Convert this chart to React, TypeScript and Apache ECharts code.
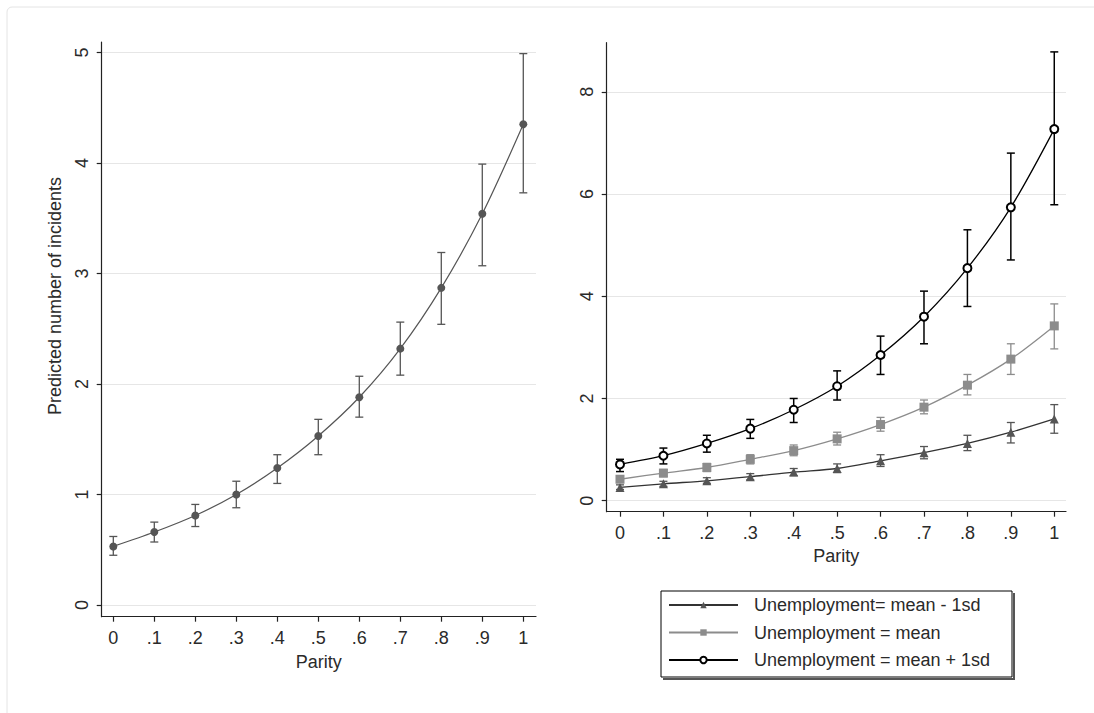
import React, { useEffect, useRef } from "react";
import * as echarts from "echarts";

const parity = [0, 0.1, 0.2, 0.3, 0.4, 0.5, 0.6, 0.7, 0.8, 0.9, 1];
const xTickLabels = ["0", ".1", ".2", ".3", ".4", ".5", ".6", ".7", ".8", ".9", "1"];
const leftYTicks = [0, 1, 2, 3, 4, 5];
const rightYTicks = [0, 2, 4, 6, 8];

// Left panel: predicted number of incidents
const leftPred = [0.53, 0.66, 0.81, 1.0, 1.24, 1.53, 1.88, 2.32, 2.87, 3.54, 4.35];
const leftLow = [0.45, 0.57, 0.71, 0.88, 1.1, 1.36, 1.7, 2.08, 2.54, 3.07, 3.73];
const leftHigh = [0.62, 0.75, 0.91, 1.12, 1.36, 1.68, 2.07, 2.56, 3.19, 3.99, 4.99];

// Right panel
const nameMinus = "Unemployment= mean - 1sd";
const nameMean = "Unemployment = mean";
const namePlus = "Unemployment = mean + 1sd";

const minusPred = [0.26, 0.33, 0.39, 0.47, 0.56, 0.63, 0.78, 0.94, 1.12, 1.34, 1.6];
const minusLow = [0.22, 0.28, 0.34, 0.41, 0.49, 0.55, 0.67, 0.82, 0.98, 1.13, 1.32];
const minusHigh = [0.31, 0.38, 0.45, 0.53, 0.63, 0.72, 0.9, 1.06, 1.28, 1.53, 1.88];

const meanPred = [0.42, 0.54, 0.65, 0.81, 0.98, 1.21, 1.49, 1.83, 2.26, 2.77, 3.42];
const meanLow = [0.36, 0.47, 0.57, 0.72, 0.88, 1.09, 1.36, 1.7, 2.07, 2.47, 2.97];
const meanHigh = [0.49, 0.61, 0.73, 0.9, 1.09, 1.34, 1.63, 1.97, 2.47, 3.07, 3.85];

const plusPred = [0.71, 0.88, 1.12, 1.41, 1.78, 2.24, 2.85, 3.6, 4.55, 5.74, 7.27];
const plusLow = [0.57, 0.72, 0.95, 1.22, 1.53, 1.97, 2.47, 3.07, 3.8, 4.71, 5.79];
const plusHigh = [0.81, 1.03, 1.28, 1.59, 2.0, 2.54, 3.22, 4.1, 5.3, 6.8, 8.78];

const FONT = "'Liberation Sans', Arial, Helvetica, sans-serif";
const TEXT = "#2a2a2a";
const AXIS = "#222";
const GRIDC = "#e6e6e6";

function pts(ys: number[]) {
  return parity.map((x, i) => [x, ys[i]]);
}
function bars(lo: number[], hi: number[]) {
  return parity.map((x, i) => [x, lo[i], hi[i]]);
}

function errorSeries(idx: number, lo: number[], hi: number[], color: string, width: number) {
  return {
    type: "custom",
    xAxisIndex: idx,
    yAxisIndex: idx,
    silent: true,
    z: 3,
    data: bars(lo, hi),
    renderItem: (params: any, api: any) => {
      const x = api.value(0);
      const a = api.coord([x, api.value(1)]);
      const b = api.coord([x, api.value(2)]);
      const cw = 4;
      const style = { stroke: color, lineWidth: width };
      return {
        type: "group",
        children: [
          { type: "line", shape: { x1: a[0], y1: a[1], x2: b[0], y2: b[1] }, style },
          { type: "line", shape: { x1: a[0] - cw, y1: a[1], x2: a[0] + cw, y2: a[1] }, style },
          { type: "line", shape: { x1: b[0] - cw, y1: b[1], x2: b[0] + cw, y2: b[1] }, style },
        ],
      };
    },
  };
}

function xAxisCfg(idx: number, min: number, max: number, gap: number) {
  return {
    type: "value",
    gridIndex: idx,
    min,
    max,
    name: "Parity",
    nameLocation: "middle",
    nameGap: gap,
    nameTextStyle: { fontSize: 18, color: TEXT, fontFamily: FONT },
    axisLine: { show: true, onZero: false, lineStyle: { color: AXIS, width: 1.2 } },
    axisTick: { show: true, length: 5, customValues: parity, lineStyle: { color: AXIS, width: 1.2 } },
    axisLabel: {
      customValues: parity,
      margin: 12,
      fontSize: 18,
      color: TEXT,
      fontFamily: FONT,
      formatter: (v: number) => xTickLabels[Math.round(v * 10)],
    },
    splitLine: { show: false },
  };
}

function yAxisCfg(idx: number, min: number, max: number, ticks: number[]) {
  return {
    type: "value",
    gridIndex: idx,
    min,
    max,
    axisLine: { show: true, onZero: false, lineStyle: { color: AXIS, width: 1.2 } },
    axisTick: { show: true, length: 5, customValues: ticks, lineStyle: { color: AXIS, width: 1.2 } },
    axisLabel: {
      customValues: ticks,
      rotate: 90,
      margin: 11,
      fontSize: 18,
      color: TEXT,
      fontFamily: FONT,
    },
    splitLine: { show: true, lineStyle: { color: GRIDC, width: 1.2 } },
  };
}

export default function App() {
  const ref = useRef<HTMLDivElement>(null);

  useEffect(() => {
    if (!ref.current) return;
    const chart = echarts.init(ref.current, null, { renderer: "svg" });
    const option: any = {
      animation: false,
      backgroundColor: "#fff",
      textStyle: { fontFamily: FONT },
      grid: [
        { left: 101.7, top: 42, width: 434.3, height: 574.7 },
        { left: 606.7, top: 42.7, width: 459.3, height: 469 },
      ],
      xAxis: [xAxisCfg(0, -0.0283, 1.031, 36), xAxisCfg(1, -0.0306, 1.027, 34)],
      yAxis: [yAxisCfg(0, -0.106, 5.095, leftYTicks), yAxisCfg(1, -0.215, 8.96, rightYTicks)],
      legend: {
        left: 668,
        top: 596,
        orient: "vertical",
        itemWidth: 69,
        itemHeight: 8,
        itemGap: 9.5,
        padding: 0,
        data: [nameMinus, nameMean, namePlus],
        textStyle: { fontSize: 18, color: TEXT, fontFamily: FONT, padding: [0, 0, 0, 11] },
      },
      graphic: [
        {
          type: "rect",
          silent: true,
          z: -10,
          shape: { x: 7, y: 7, width: 1200, height: 800, r: 5 },
          style: { fill: "none", stroke: "#e4e4e4", lineWidth: 1 },
        },
        {
          type: "polyline",
          silent: true,
          shape: { points: [[1014, 593], [1014, 679], [663, 679]] },
          style: { stroke: "#555", lineWidth: 2, fill: "none" },
        },
        {
          type: "rect",
          silent: true,
          shape: { x: 661, y: 591, width: 351, height: 86 },
          style: { fill: "none", stroke: "#000", lineWidth: 1 },
        },
        {
          type: "text",
          silent: true,
          x: 55,
          y: 296,
          rotation: Math.PI / 2,
          style: {
            text: "Predicted number of incidents",
            fontSize: 18,
            fontFamily: FONT,
            fill: TEXT,
            align: "center",
            verticalAlign: "middle",
          },
        },
      ],
      series: [
        {
          type: "line",
          name: "Predicted",
          xAxisIndex: 0,
          yAxisIndex: 0,
          data: pts(leftPred),
          smooth: 0.3,
          symbol: "circle",
          symbolSize: 8,
          z: 4,
          lineStyle: { color: "#555", width: 1.2 },
          itemStyle: { color: "#555" },
        },
        errorSeries(0, leftLow, leftHigh, "#555", 1.3),
        {
          type: "line",
          name: nameMinus,
          xAxisIndex: 1,
          yAxisIndex: 1,
          data: pts(minusPred),
          smooth: 0.3,
          symbol: "triangle",
          symbolSize: 9,
          z: 4,
          lineStyle: { color: "#333", width: 1.3 },
          itemStyle: { color: "#555" },
        },
        errorSeries(1, minusLow, minusHigh, "#555", 1.3),
        {
          type: "line",
          name: nameMean,
          xAxisIndex: 1,
          yAxisIndex: 1,
          data: pts(meanPred),
          smooth: 0.3,
          symbol: "rect",
          symbolSize: 9,
          z: 4,
          lineStyle: { color: "#8c8c8c", width: 1.3 },
          itemStyle: { color: "#8c8c8c" },
        },
        errorSeries(1, meanLow, meanHigh, "#8c8c8c", 1.3),
        {
          type: "line",
          name: namePlus,
          xAxisIndex: 1,
          yAxisIndex: 1,
          data: pts(plusPred),
          smooth: 0.3,
          symbol: "emptyCircle",
          symbolSize: 8,
          z: 5,
          lineStyle: { color: "#000", width: 1.3 },
          itemStyle: { color: "#000", borderWidth: 1.3 },
        },
        errorSeries(1, plusLow, plusHigh, "#000", 1.5),
      ],
    };
    chart.setOption(option);
    return () => chart.dispose();
  }, []);

  return (
    <div
      ref={ref}
      style={{ position: "fixed", left: 0, top: 0, width: 1094, height: 713, background: "#fff" }}
    />
  );
}
